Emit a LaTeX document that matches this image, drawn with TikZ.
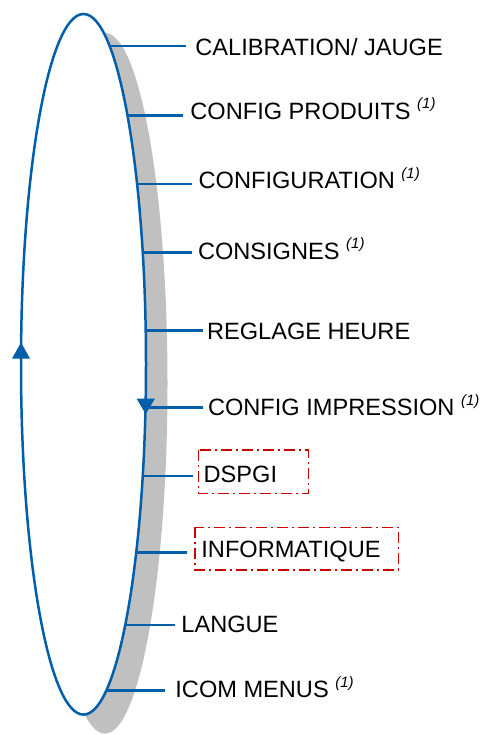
\documentclass[tikz,border=0pt]{standalone}
\usepackage{fontspec}
\setmainfont{Liberation Sans}
\usetikzlibrary{calc}
\definecolor{cblue}{RGB}{0,94,170}
\definecolor{cshadow}{RGB}{192,192,192}
\definecolor{cred}{RGB}{204,0,0}
\newcommand{\noteone}{\raisebox{10.8pt}{\fontsize{15}{15}\selectfont\itshape (1)}}
\begin{document}
\begin{tikzpicture}[x=1pt,y=-1pt,
  declare function={ex(\t)=83.5+62.5*sqrt(1-((\t-364.3)/350.3)*((\t-364.3)/350.3));},
  lbl/.style={anchor=west,inner sep=0pt,text height=16.9pt,text depth=0pt,
    font=\fontsize{23.6}{28}\selectfont},
  conn/.style={draw=cblue,line width=2.5pt},
  loop/.style={draw=cblue,line width=2.5pt,fill=white},
  redbox/.style={draw=cred,line width=1.5pt,dash pattern=on 11pt off 4pt on 2pt off 4pt},
  tip/.style={fill=cblue}]
\useasboundingbox (0,0) rectangle (489,735);
% shadow and loop
\fill[cshadow] (105,383.3) ellipse [x radius=62.5pt, y radius=350.3pt];
\path[loop] (83.5,364.3) ellipse [x radius=62.5pt, y radius=350.3pt];
% arrow heads on the loop
\fill[tip] (21,342.5) -- (12,358.5) -- (30,358.5) -- cycle;
\fill[tip] (145.7,414) -- (136.5,398.5) -- (155,398.5) -- cycle;
% labels
\node[lbl] (cal)   at (195.2,47.2)  {CALIBRATION/ JAUGE};
\node[lbl] (prod)  at (190.2,111)   {CONFIG PRODUITS \noteone};
\node[lbl] (cfg)   at (198.5,180.5) {CONFIGURATION \noteone};
\node[lbl] (cons)  at (197.8,250.8) {CONSIGNES \noteone};
\node[lbl] (regl)  at (206.8,331.3) {REGLAGE HEURE};
\node[lbl] (impr)  at (207.8,407.5) {CONFIG IMPRESSION \noteone};
\node[lbl] (dspgi) at (203.5,473.8) {DSPGI};
\node[lbl] (info)  at (201.2,549)   {INFORMATIQUE};
\node[lbl] (lang)  at (181.2,624)   {LANGUE};
\node[lbl] (icom)  at (175.2,689.5) {ICOM MENUS \noteone};
% dash-dot frames
\draw[redbox] ($(dspgi.west)+(-5.2,-23.8)$) rectangle ($(dspgi.west)+(104.8,19.5)$);
\draw[redbox] ($(info.west)+(-6.2,-21.7)$) rectangle ($(info.west)+(197.1,21)$);
% points on the loop
\coordinate (ecal)   at ({ex(46)},46);
\coordinate (eprod)  at ({ex(115.7)},115.7);
\coordinate (ecfg)   at ({ex(184)},184);
\coordinate (econs)  at ({ex(252.7)},252.7);
\coordinate (eregl)  at ({ex(330.7)},330.7);
\coordinate (eimpr)  at ({ex(407.3)},407.3);
\coordinate (edspgi) at ({ex(476)},476);
\coordinate (einfo)  at ({ex(552.7)},552.7);
\coordinate (elang)  at ({ex(625)},625);
\coordinate (eicom)  at ({ex(690.7)},690.7);
% connectors
\draw[conn] (ecal)   -- ($(ecal -| cal.west)+(-9.2,0)$);
\draw[conn] (eprod)  -- ($(eprod -| prod.west)+(-7.2,0)$);
\draw[conn] (ecfg)   -- ($(ecfg -| cfg.west)+(-6.8,0)$);
\draw[conn] (econs)  -- ($(econs -| cons.west)+(-6.1,0)$);
\draw[conn] (eregl)  -- ($(eregl -| regl.west)+(-3.8,0)$);
\draw[conn] (eimpr)  -- ($(eimpr -| impr.west)+(-4.8,0)$);
\draw[conn] (edspgi) -- ($(edspgi -| dspgi.west)+(-10.2,0)$);
\draw[conn] (einfo)  -- ($(einfo -| info.west)+(-14.5,0)$);
\draw[conn] (elang)  -- ($(elang -| lang.west)+(-6.2,0)$);
\draw[conn] (eicom)  -- ($(eicom -| icom.west)+(-10.2,0)$);
\end{tikzpicture}
\end{document}
